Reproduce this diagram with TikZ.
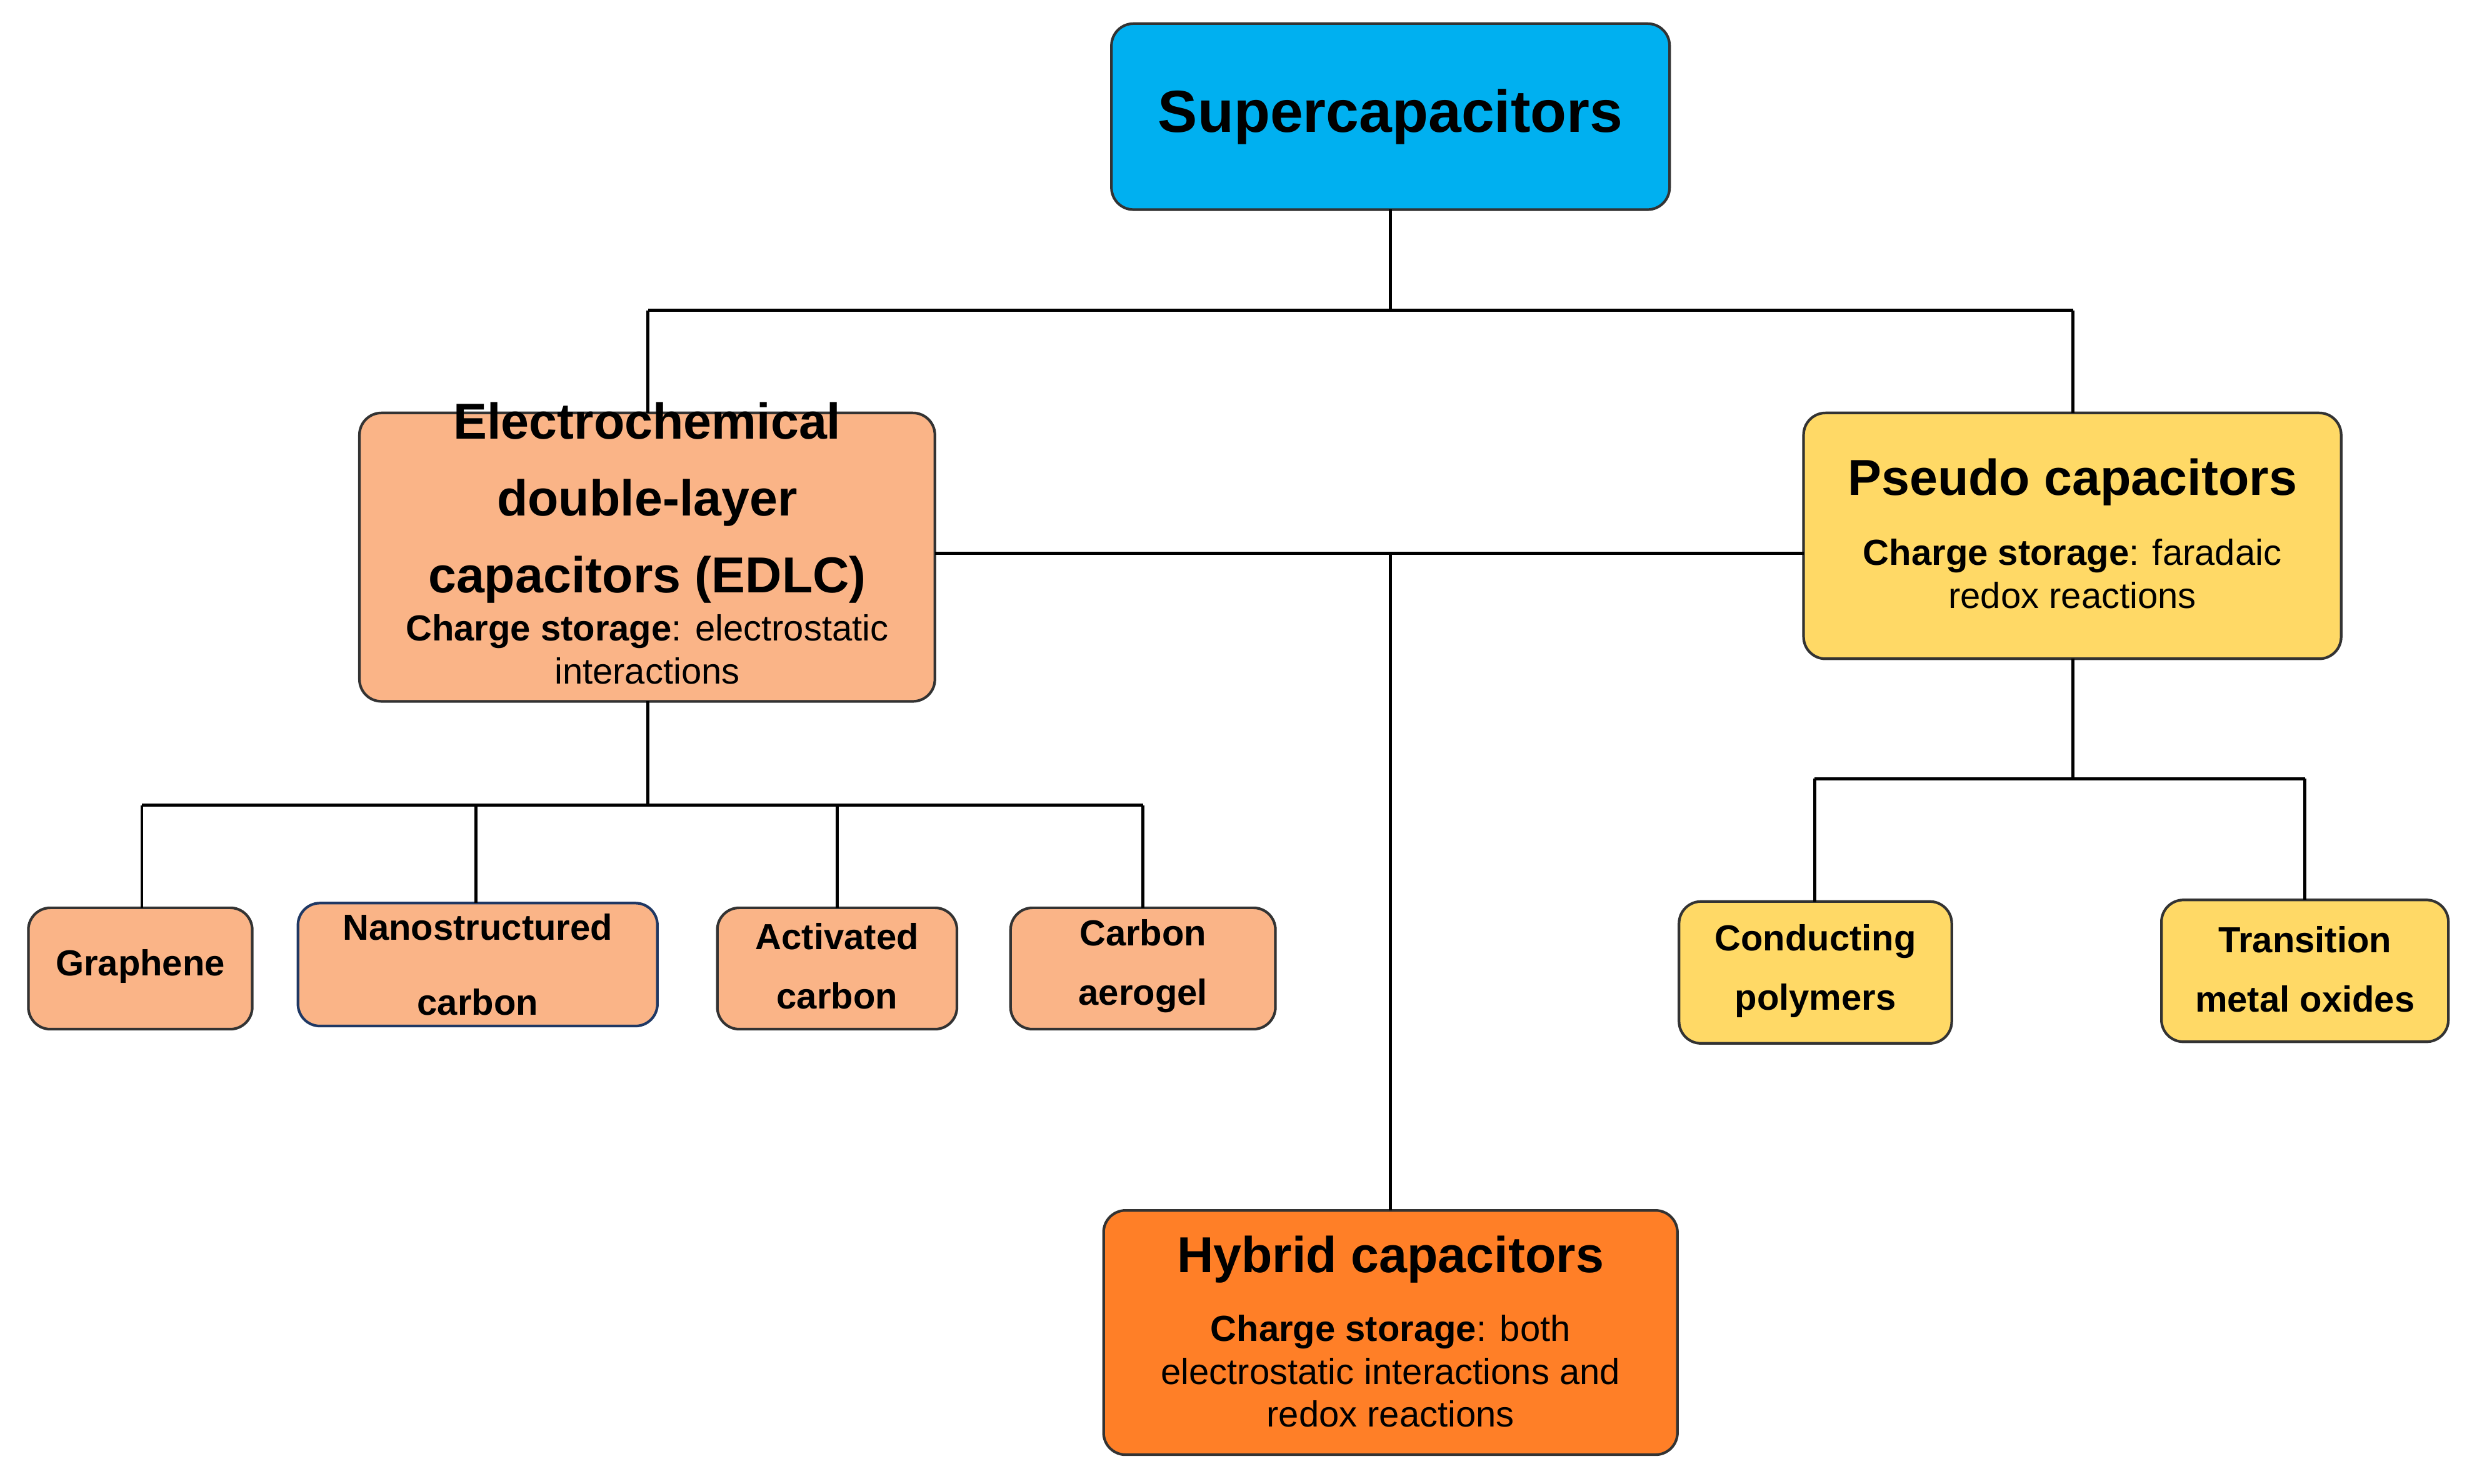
\documentclass[tikz,border=0pt]{standalone}
\usepackage{fontspec}
\setmainfont{Liberation Sans}
\definecolor{blu}{RGB}{0,176,240}
\definecolor{sal}{RGB}{250,180,135}
\definecolor{yel}{RGB}{255,217,102}
\definecolor{org}{RGB}{255,127,39}
\definecolor{nav}{RGB}{31,56,100}
\begin{document}
\begin{tikzpicture}[x=0.02522cm,y=-0.02522cm,
 box/.style={draw=black!80,line width=1.2pt,rounded corners=10pt},
 ln/.style={line width=1.4pt,black},
 bt/.style={font=\fontsize{23}{35}\selectfont\bfseries,align=center},
 st/.style={font=\fontsize{16.5}{19.5}\selectfont,align=center},
 sm/.style={font=\fontsize{16.5}{27}\selectfont\bfseries,align=center}]
\useasboundingbox (0,0) rectangle (1568,941.3);
\path[box,fill=blu] (705,15) rectangle (1059,133);
\node[font=\fontsize{27}{34}\selectfont\bfseries] (supt) at (882,74) {Supercapacitors};
\path[box,fill=sal] (228,262) rectangle (593,445);
\node[bt] (edt) at (410.5,319) {Electrochemical\\double-layer\\capacitors (EDLC)};
\node[st] (edb) at (410.5,412) {\textbf{Charge storage}: electrostatic\\interactions};
\path[box,fill=yel] (1144,262) rectangle (1485,418);
\node[bt] (pst) at (1314.5,306) {Pseudo capacitors};
\node[st] (psb) at (1314.5,364) {\textbf{Charge storage}: faradaic\\redox reactions};
\path[box,fill=org] (700,768) rectangle (1064,923);
\node[bt] (hyt) at (882,799) {Hybrid capacitors};
\node[st] (hyb) at (882,870) {\textbf{Charge storage}: both\\electrostatic interactions and\\redox reactions};
\path[box,fill=sal] (18,576) rectangle (160,653);
\node[sm] (g) at (89,613) {Graphene};
\path[box,fill=sal,draw=nav] (189,573) rectangle (417,651);
\node[sm,font=\fontsize{16.5}{34}\selectfont\bfseries] (n) at (303,612) {Nanostructured\\carbon};
\path[box,fill=sal] (455,576) rectangle (607,653);
\node[sm] (a) at (531,613) {Activated\\carbon};
\path[box,fill=sal] (641,576) rectangle (809,653);
\node[sm] (c) at (725,613) {Carbon\\aerogel};
\path[box,fill=yel] (1065,572) rectangle (1238,662);
\node[sm] (cp) at (1151.5,616) {Conducting\\polymers};
\path[box,fill=yel] (1371,571) rectangle (1553,661);
\node[sm] (tm) at (1462,615) {Transition\\metal oxides};
\coordinate (s0) at (882,133); \coordinate (s1) at (882,197);
\draw[ln] (s0)--(s1) (411,197)--(1315,197) (411,197)--(411,262) (1315,197)--(1315,262);
\draw[ln] (593,351)--(1144,351) (882,351)--(882,768);
\draw[ln] (411,445)--(411,511) (90,511)--(725,511);
\draw[ln] (90,511)--(90,576) (302,511)--(302,573) (531,511)--(531,576) (725,511)--(725,576);
\draw[ln] (1315,418)--(1315,494) (1151,494)--(1462,494) (1151,494)--(1151,572) (1462,494)--(1462,571);
\end{tikzpicture}
\end{document}
